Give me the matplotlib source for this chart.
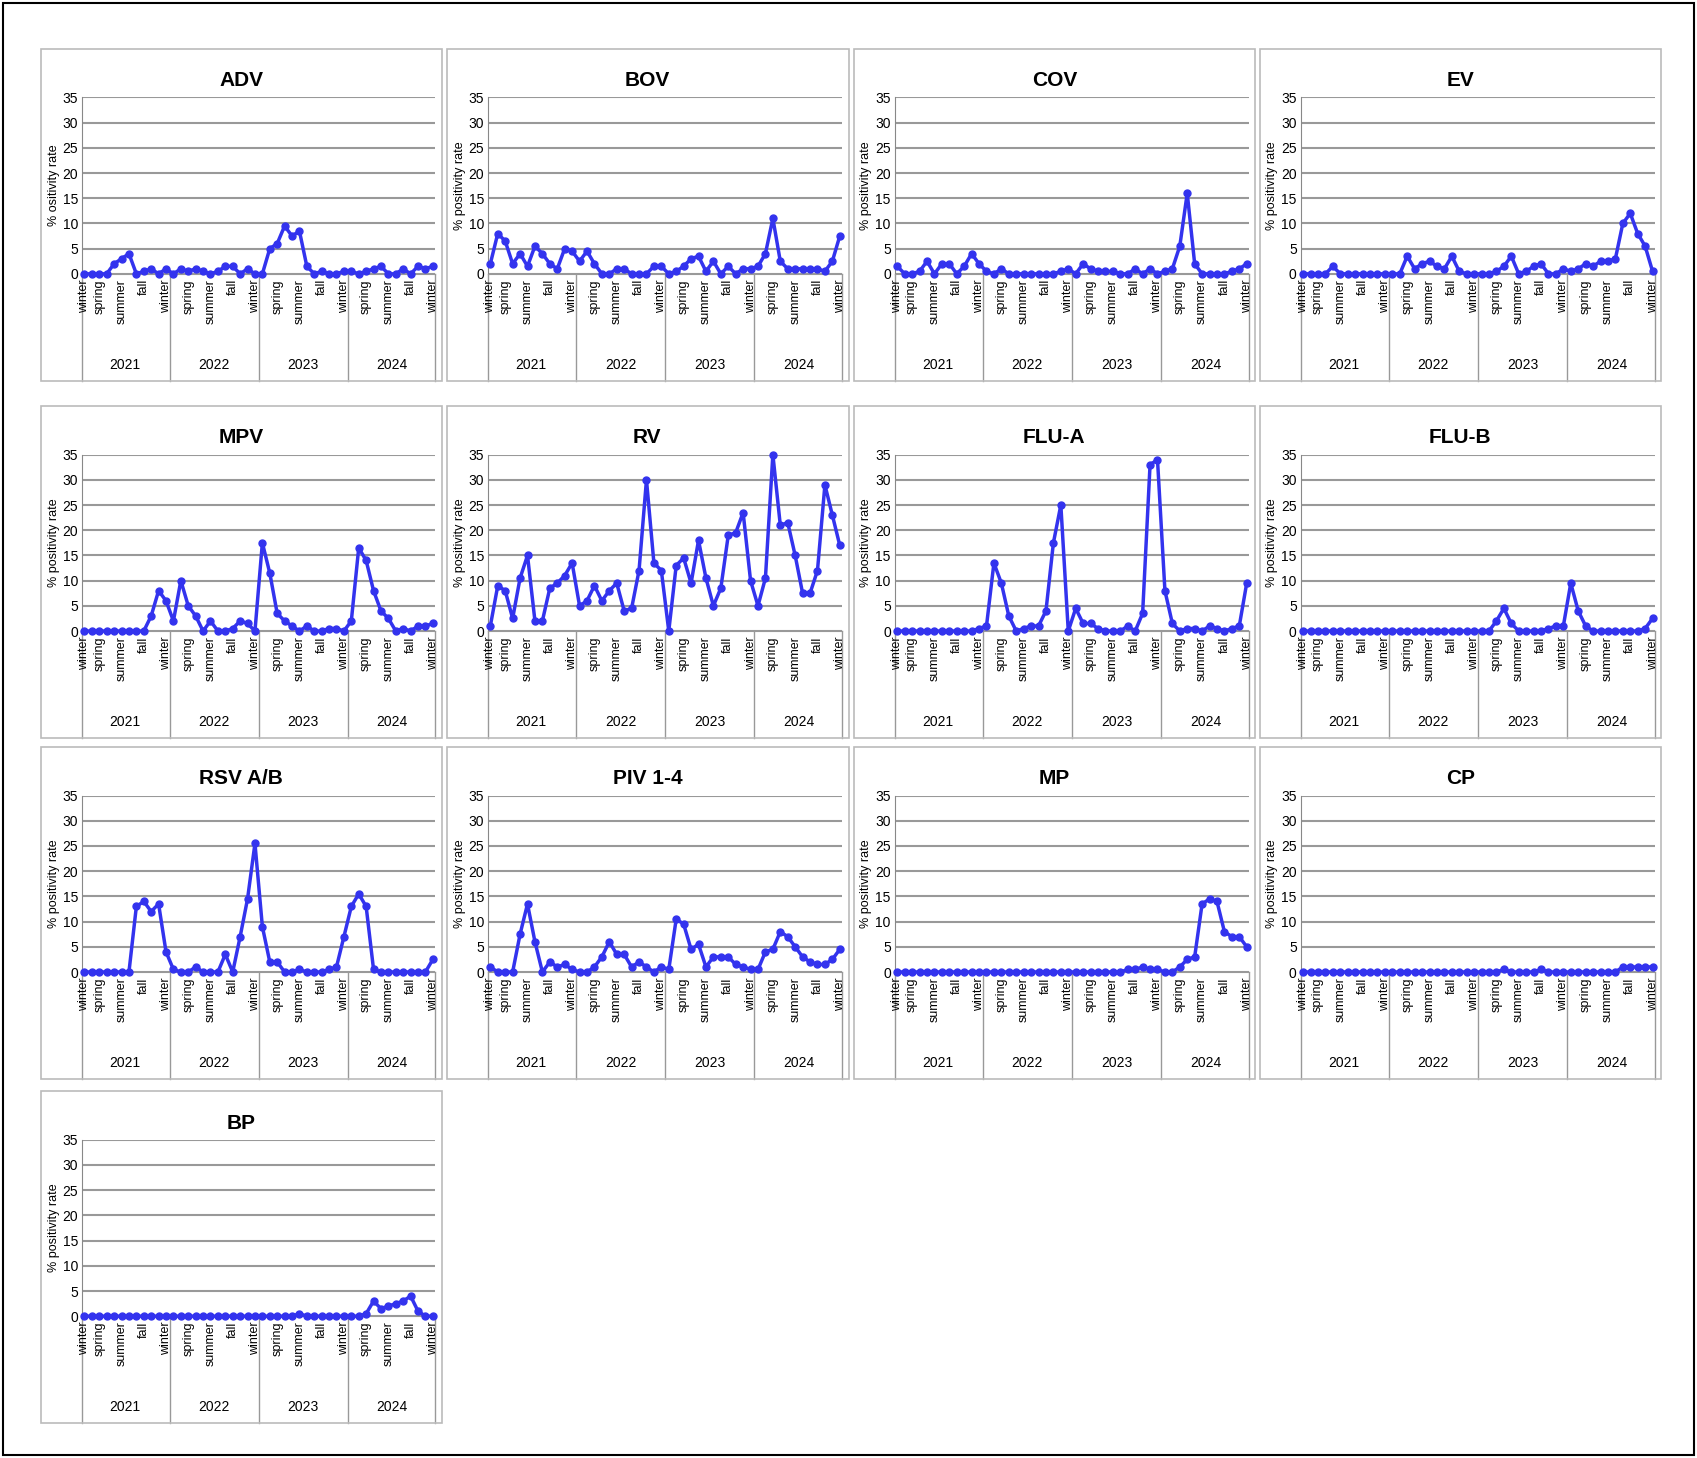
import matplotlib
matplotlib.use("Agg")
import matplotlib.pyplot as plt
import numpy as np

plt.rcParams['font.family'] = ['Liberation Sans Narrow', 'Liberation Sans', 'DejaVu Sans']

years = ["2021", "2022", "2023", "2024"]
seasons = ["winter", "spring", "summer", "fall", "winter"]
season_pos = [0, 2, 5, 8, 11]

ADV = [0,0,0,0,2,3,4,0,0.5,1,0,1, 0,1,0.5,1,0.5,0,0.5,1.5,1.5,0,1,0,
       0,5,6,9.5,7.5,8.5,1.5,0,0.5,0,0,0.5, 0.5,0,0.5,1,1.5,0,0,1,0,1.5,1,1.5]
BOV = [2,8,6.5,2,4,1.5,5.5,4,2,1,5,4.5, 2.5,4.5,2,0,0,1,1,0,0,0,1.5,1.5,
       0,0.5,1.5,3,3.5,0.5,2.5,0,1.5,0,1,1, 1.5,4,11,2.5,1,1,1,1,1,0.5,2.5,7.5]
COV = [1.5,0,0,0.5,2.5,0,2,2,0,1.5,4,2, 0.5,0,1,0,0,0,0,0,0,0,0.5,1,
       0,2,1,0.5,0.5,0.5,0,0,1,0,1,0, 0.5,1,5.5,16,2,0,0,0,0,0.5,1,2]
EV = [0,0,0,0,1.5,0,0,0,0,0,0,0, 0,0,3.5,1,2,2.5,1.5,1,3.5,0.5,0,0,
      0,0,0.5,1.5,3.5,0,0.5,1.5,2,0,0,1, 0.5,1,2,1.5,2.5,2.5,3,10,12,8,5.5,0.5]
MPV = [0,0,0,0,0,0,0,0,0,3,8,6, 2,10,5,3,0,2,0,0,0.5,2,1.5,0,
       17.5,11.5,3.5,2,1,0,1,0,0,0.5,0.5,0, 2,16.5,14,8,4,2.5,0,0.5,0,1,1,1.5]
RV = [1,9,8,2.5,10.5,15,2,2,8.5,9.5,11,13.5, 5,6,9,6,8,9.5,4,4.5,12,30,13.5,12,
      0,13,14.5,9.5,18,10.5,5,8.5,19,19.5,23.5,10, 5,10.5,35,21,21.5,15,7.5,7.5,12,29,23,17]
FLUA = [0,0,0,0,0,0,0,0,0,0,0,0.5, 1,13.5,9.5,3,0,0.5,1,1,4,17.5,25,0,
        4.5,1.5,1.5,0.5,0,0,0,1,0,3.5,33,34, 8,1.5,0,0.5,0.5,0,1,0.5,0,0.5,1,9.5]
FLUB = [0]*12 + [0]*12 + [0,0,2,4.5,1.5,0,0,0,0,0.5,1,1] + [9.5,4,1,0,0,0,0,0,0,0,0.5,2.5]
RSV = [0,0,0,0,0,0,0,13,14,12,13.5,4, 0.5,0,0,1,0,0,0,3.5,0,7,14.5,25.5,
       9,2,2,0,0,0.5,0,0,0,0.5,1,7, 13,15.5,13,0.5,0,0,0,0,0,0,0,2.5]
PIV = [1,0,0,0,7.5,13.5,6,0,2,1,1.5,0.5, 0,0,1,3,6,3.5,3.5,1,2,1,0,1,
       0.5,10.5,9.5,4.5,5.5,1,3,3,3,1.5,1,0.5, 0.5,4,4.5,8,7,5,3,2,1.5,1.5,2.5,4.5]
MP = [0]*12 + [0]*12 + [0,0,0,0,0,0,0,0.5,0.5,1,0.5,0.5] + [0,0,1,2.5,3,13.5,14.5,14,8,7,7,5]
CP = [0]*12 + [0]*12 + [0,0,0,0.5,0,0,0,0,0.5,0,0,0] + [0,0,0,0,0,0,0,1,1,1,1,1]
BP = [0]*12 + [0]*12 + [0,0,0,0,0,0.5,0,0,0,0,0,0] + [0,0,0.5,3,1.5,2,2.5,3,4,1,0,0]

panels = [("ADV", ADV), ("BOV", BOV), ("COV", COV), ("EV", EV),
          ("MPV", MPV), ("RV", RV), ("FLU-A", FLUA), ("FLU-B", FLUB),
          ("RSV A/B", RSV), ("PIV 1-4", PIV), ("MP", MP), ("CP", CP), ("BP", BP)]

W, H = 1568.0, 1347.0
fig = plt.figure(figsize=(16.97, 14.58), dpi=100)
fig.add_artist(plt.Rectangle((0.002, 0.002), 0.996, 0.996, transform=fig.transFigure,
                             fill=False, ec='black', lw=1.5))
colx = [(38, 408), (413, 784), (789, 1160), (1164, 1535)]
rowy = [(45, 352), (375, 682), (690, 997), (1008, 1315)]

for i, (name, vals) in enumerate(panels):
    r, c = divmod(i, 4)
    bx0, bx1 = colx[c]
    by0, by1 = rowy[r]
    fig.add_artist(plt.Rectangle((bx0 / W, 1 - by1 / H), (bx1 - bx0) / W, (by1 - by0) / H,
                                 transform=fig.transFigure, fill=False, ec='#bbbbbb', lw=1.2))
    ax_l, ax_r = bx0 + 38, bx1 - 6
    ax_t, ax_b = by0 + 45, by0 + 208
    ax = fig.add_axes([ax_l / W, 1 - ax_b / H, (ax_r - ax_l) / W, (ax_b - ax_t) / H])
    x = np.arange(len(vals))
    ax.plot(x, vals, color='#3333ee', lw=2.5, marker='o', ms=5, clip_on=False, zorder=3)
    ax.set_xlim(-0.3, 47.3)
    ax.set_ylim(0, 35)
    ax.set_yticks(range(0, 36, 5))
    ax.yaxis.grid(True, color='#999999', lw=1.5)
    ax.set_axisbelow(True)
    for s in ['top', 'right']:
        ax.spines[s].set_visible(False)
    ax.spines['left'].set_color('#888888')
    ax.spines['bottom'].set_color('#999999')
    ax.tick_params(axis='y', length=0, labelsize=10, pad=3)
    ax.set_xticks([])
    ax.set_title(name, fontsize=15, fontweight='bold', pad=8, x=0.45)
    ax.set_ylabel("% ositivity rate" if name == "ADV" else "% positivity rate", fontsize=9, labelpad=2)
    trans = ax.get_xaxis_transform()
    depth = (by1 - ax_b) / (ax_b - ax_t)
    for k in range(5):
        xb = -0.3 if k == 0 else (47.3 if k == 4 else 12 * k - 0.5)
        ax.plot([xb, xb], [0, -depth], transform=trans, color='#999999', lw=1, clip_on=False)
    for yi, yr in enumerate(years):
        ax.text(12 * yi + 5.5, -depth + 15 / (ax_b - ax_t), yr, transform=trans,
                ha='center', va='center', fontsize=10)
        for j, (sp, sn) in enumerate(zip(season_pos, seasons)):
            if yi > 0 and j == 0:
                continue
            ax.text(12 * yi + sp, -0.03, sn, transform=trans, rotation=90,
                    ha='center', va='top', fontsize=9)

fig.savefig("out.png", dpi=100)
